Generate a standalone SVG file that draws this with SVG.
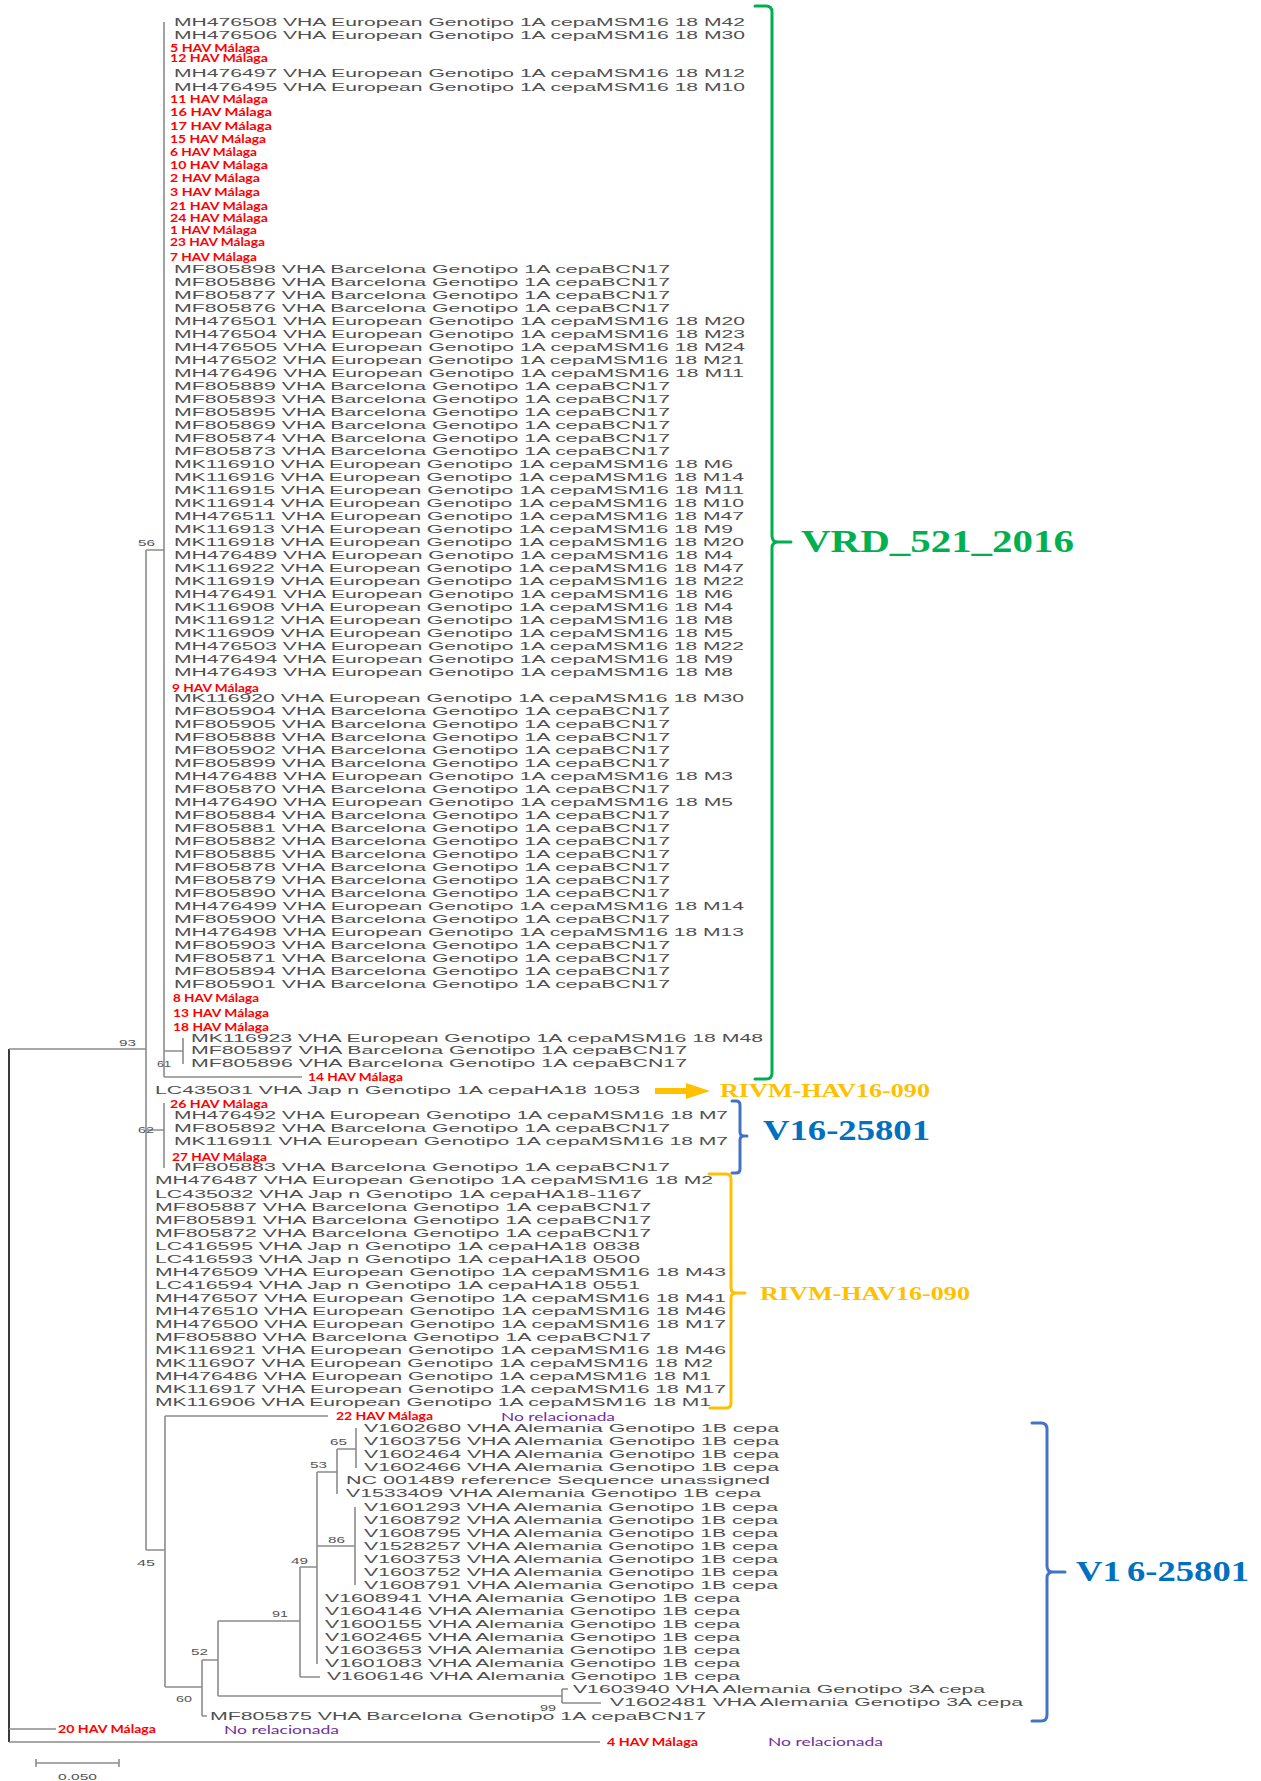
<svg xmlns="http://www.w3.org/2000/svg" width="1261" height="1781" viewBox="0 0 1261 1781">
<style>
.t{font-family:"Liberation Sans",Arial,sans-serif;font-size:10px;fill:#505050}
.r{font-family:Lato,"Liberation Sans",sans-serif;font-weight:bold;font-size:11px;fill:#ff0000}
.n{font-family:Lato,"Liberation Sans",sans-serif;font-size:12px;fill:#7030a0}
.b{font-family:"Liberation Sans",Arial,sans-serif;font-size:8.5px;fill:#555}
.ln{fill:none;stroke:#8c8c8c;stroke-width:1.6}
.root{fill:none;stroke:#3a3a3a;stroke-width:2}
.big{font-family:"Liberation Serif","Times New Roman",serif;font-weight:bold}
.g{fill:#00b050}.y{fill:#ffc000}.bl{fill:#0070c0}
.br{fill:none;stroke-width:3;stroke-linecap:round}
</style>
<rect width="1261" height="1781" fill="#fff"/>
<g id="connectors">
<path class="root" d="M9,1049V1742"/>
<path class="ln" d="M9,1049H146M9,1729H56M9,1742H600"/>
<path class="ln" d="M146,550V1550M146,550H164M146,1130H164M146,1550H165"/>
<path class="ln" d="M164,22V1077M164,1077H302M164,1051H183M183,1038V1064"/>
<path class="ln" d="M164,1103V1168"/>
<path class="ln" d="M165,1416V1687M165,1416H328M165,1687H202"/>
<path class="ln" d="M202,1660V1716M202,1660H218M202,1716H207"/>
<path class="ln" d="M218,1621V1696M218,1621H300M218,1696H562"/>
<path class="ln" d="M300,1567V1677M300,1567H317M300,1677H320"/>
<path class="ln" d="M317,1472V1664M317,1472H337M317,1546H355"/>
<path class="ln" d="M337,1449V1494M337,1449H356M356,1428V1468M355,1507V1585"/>
<path class="ln" d="M562,1689V1703M562,1703H601M562,1689H568"/>
<path class="ln" d="M36,1763H119M36,1759V1767M119,1759V1767"/>
</g>
<g id="bootstrap">
<text class="b" x="138" y="546" textLength="17" lengthAdjust="spacingAndGlyphs">56</text>
<text class="b" x="119" y="1046" textLength="17" lengthAdjust="spacingAndGlyphs">93</text>
<text class="b" x="157" y="1067" textLength="14" lengthAdjust="spacingAndGlyphs">61</text>
<text class="b" x="138" y="1133" textLength="16" lengthAdjust="spacingAndGlyphs">62</text>
<text class="b" x="137" y="1566" textLength="18" lengthAdjust="spacingAndGlyphs">45</text>
<text class="b" x="330" y="1445" textLength="17" lengthAdjust="spacingAndGlyphs">65</text>
<text class="b" x="310" y="1468" textLength="17" lengthAdjust="spacingAndGlyphs">53</text>
<text class="b" x="328" y="1543" textLength="17" lengthAdjust="spacingAndGlyphs">86</text>
<text class="b" x="291" y="1564" textLength="17" lengthAdjust="spacingAndGlyphs">49</text>
<text class="b" x="272" y="1617" textLength="16" lengthAdjust="spacingAndGlyphs">91</text>
<text class="b" x="191" y="1655" textLength="17" lengthAdjust="spacingAndGlyphs">52</text>
<text class="b" x="176" y="1702" textLength="16" lengthAdjust="spacingAndGlyphs">60</text>
<text class="b" x="540" y="1711" textLength="16" lengthAdjust="spacingAndGlyphs">99</text>
<text class="b" x="58" y="1780" textLength="39" lengthAdjust="spacingAndGlyphs">0.050</text>
</g>
<g id="tips-top">
<g id="n1"><text class="t" x="174" y="25.7" textLength="571" lengthAdjust="spacingAndGlyphs">MH476508 VHA European Genotipo 1A cepaMSM16 18 M42</text></g>
<g id="n2"><text class="t" x="174" y="38.7" textLength="571" lengthAdjust="spacingAndGlyphs">MH476506 VHA European Genotipo 1A cepaMSM16 18 M30</text></g>
<g id="n3"><text class="r" x="170" y="51.5" textLength="90" lengthAdjust="spacingAndGlyphs">5 HAV Málaga</text></g>
<g id="n4"><text class="r" x="170" y="62" textLength="98" lengthAdjust="spacingAndGlyphs">12 HAV Málaga</text></g>
<g id="n5"><text class="t" x="174" y="77.4" textLength="571" lengthAdjust="spacingAndGlyphs">MH476497 VHA European Genotipo 1A cepaMSM16 18 M12</text></g>
<g id="n6"><text class="t" x="174" y="90.7" textLength="571" lengthAdjust="spacingAndGlyphs">MH476495 VHA European Genotipo 1A cepaMSM16 18 M10</text></g>
<g id="n7"><text class="r" x="170" y="103.3" textLength="98" lengthAdjust="spacingAndGlyphs">11 HAV Málaga</text></g>
<g id="n8"><text class="r" x="170" y="115.7" textLength="102" lengthAdjust="spacingAndGlyphs">16 HAV Málaga</text></g>
<g id="n9"><text class="r" x="170" y="130" textLength="102" lengthAdjust="spacingAndGlyphs">17 HAV Málaga</text></g>
<g id="n10"><text class="r" x="170" y="142.7" textLength="96" lengthAdjust="spacingAndGlyphs">15 HAV Málaga</text></g>
<g id="n11"><text class="r" x="170" y="156" textLength="87" lengthAdjust="spacingAndGlyphs">6 HAV Málaga</text></g>
<g id="n12"><text class="r" x="170" y="169" textLength="98" lengthAdjust="spacingAndGlyphs">10 HAV Málaga</text></g>
<g id="n13"><text class="r" x="170" y="182.3" textLength="90" lengthAdjust="spacingAndGlyphs">2 HAV Málaga</text></g>
<g id="n14"><text class="r" x="170" y="195.7" textLength="90" lengthAdjust="spacingAndGlyphs">3 HAV Málaga</text></g>
<g id="n15"><text class="r" x="170" y="209.7" textLength="98" lengthAdjust="spacingAndGlyphs">21 HAV Málaga</text></g>
<g id="n16"><text class="r" x="170" y="222" textLength="98" lengthAdjust="spacingAndGlyphs">24 HAV Málaga</text></g>
<g id="n17"><text class="r" x="170" y="233.7" textLength="87" lengthAdjust="spacingAndGlyphs">1 HAV Málaga</text></g>
<g id="n18"><text class="r" x="170" y="246.3" textLength="95" lengthAdjust="spacingAndGlyphs">23 HAV Málaga</text></g>
<g id="n19"><text class="r" x="170" y="261" textLength="87" lengthAdjust="spacingAndGlyphs">7 HAV Málaga</text></g>
<g id="n20"><text class="t" x="174" y="273.1" textLength="496" lengthAdjust="spacingAndGlyphs">MF805898 VHA Barcelona Genotipo 1A cepaBCN17</text></g>
<g id="n21"><text class="t" x="174" y="286.1" textLength="496" lengthAdjust="spacingAndGlyphs">MF805886 VHA Barcelona Genotipo 1A cepaBCN17</text></g>
<g id="n22"><text class="t" x="174" y="299.1" textLength="496" lengthAdjust="spacingAndGlyphs">MF805877 VHA Barcelona Genotipo 1A cepaBCN17</text></g>
<g id="n23"><text class="t" x="174" y="312.1" textLength="496" lengthAdjust="spacingAndGlyphs">MF805876 VHA Barcelona Genotipo 1A cepaBCN17</text></g>
<g id="n24"><text class="t" x="174" y="325.1" textLength="571" lengthAdjust="spacingAndGlyphs">MH476501 VHA European Genotipo 1A cepaMSM16 18 M20</text></g>
<g id="n25"><text class="t" x="174" y="338.1" textLength="571" lengthAdjust="spacingAndGlyphs">MH476504 VHA European Genotipo 1A cepaMSM16 18 M23</text></g>
<g id="n26"><text class="t" x="174" y="351.1" textLength="571" lengthAdjust="spacingAndGlyphs">MH476505 VHA European Genotipo 1A cepaMSM16 18 M24</text></g>
<g id="n27"><text class="t" x="174" y="364.1" textLength="570" lengthAdjust="spacingAndGlyphs">MH476502 VHA European Genotipo 1A cepaMSM16 18 M21</text></g>
<g id="n28"><text class="t" x="174" y="377.1" textLength="570" lengthAdjust="spacingAndGlyphs">MH476496 VHA European Genotipo 1A cepaMSM16 18 M11</text></g>
<g id="n29"><text class="t" x="174" y="390.1" textLength="496" lengthAdjust="spacingAndGlyphs">MF805889 VHA Barcelona Genotipo 1A cepaBCN17</text></g>
<g id="n30"><text class="t" x="174" y="403.1" textLength="496" lengthAdjust="spacingAndGlyphs">MF805893 VHA Barcelona Genotipo 1A cepaBCN17</text></g>
<g id="n31"><text class="t" x="174" y="416.1" textLength="496" lengthAdjust="spacingAndGlyphs">MF805895 VHA Barcelona Genotipo 1A cepaBCN17</text></g>
<g id="n32"><text class="t" x="174" y="429.1" textLength="496" lengthAdjust="spacingAndGlyphs">MF805869 VHA Barcelona Genotipo 1A cepaBCN17</text></g>
<g id="n33"><text class="t" x="174" y="442.1" textLength="496" lengthAdjust="spacingAndGlyphs">MF805874 VHA Barcelona Genotipo 1A cepaBCN17</text></g>
<g id="n34"><text class="t" x="174" y="455.1" textLength="496" lengthAdjust="spacingAndGlyphs">MF805873 VHA Barcelona Genotipo 1A cepaBCN17</text></g>
<g id="n35"><text class="t" x="174" y="468.1" textLength="559" lengthAdjust="spacingAndGlyphs">MK116910 VHA European Genotipo 1A cepaMSM16 18 M6</text></g>
<g id="n36"><text class="t" x="174" y="481.1" textLength="570" lengthAdjust="spacingAndGlyphs">MK116916 VHA European Genotipo 1A cepaMSM16 18 M14</text></g>
<g id="n37"><text class="t" x="174" y="494.1" textLength="570" lengthAdjust="spacingAndGlyphs">MK116915 VHA European Genotipo 1A cepaMSM16 18 M11</text></g>
<g id="n38"><text class="t" x="174" y="507.1" textLength="570" lengthAdjust="spacingAndGlyphs">MK116914 VHA European Genotipo 1A cepaMSM16 18 M10</text></g>
<g id="n39"><text class="t" x="174" y="520.1" textLength="570" lengthAdjust="spacingAndGlyphs">MH476511 VHA European Genotipo 1A cepaMSM16 18 M47</text></g>
<g id="n40"><text class="t" x="174" y="533.1" textLength="559" lengthAdjust="spacingAndGlyphs">MK116913 VHA European Genotipo 1A cepaMSM16 18 M9</text></g>
<g id="n41"><text class="t" x="174" y="546.1" textLength="570" lengthAdjust="spacingAndGlyphs">MK116918 VHA European Genotipo 1A cepaMSM16 18 M20</text></g>
<g id="n42"><text class="t" x="174" y="559.1" textLength="559" lengthAdjust="spacingAndGlyphs">MH476489 VHA European Genotipo 1A cepaMSM16 18 M4</text></g>
<g id="n43"><text class="t" x="174" y="572.1" textLength="570" lengthAdjust="spacingAndGlyphs">MK116922 VHA European Genotipo 1A cepaMSM16 18 M47</text></g>
<g id="n44"><text class="t" x="174" y="585.1" textLength="570" lengthAdjust="spacingAndGlyphs">MK116919 VHA European Genotipo 1A cepaMSM16 18 M22</text></g>
<g id="n45"><text class="t" x="174" y="598.1" textLength="559" lengthAdjust="spacingAndGlyphs">MH476491 VHA European Genotipo 1A cepaMSM16 18 M6</text></g>
<g id="n46"><text class="t" x="174" y="611.1" textLength="559" lengthAdjust="spacingAndGlyphs">MK116908 VHA European Genotipo 1A cepaMSM16 18 M4</text></g>
<g id="n47"><text class="t" x="174" y="624.1" textLength="559" lengthAdjust="spacingAndGlyphs">MK116912 VHA European Genotipo 1A cepaMSM16 18 M8</text></g>
<g id="n48"><text class="t" x="174" y="637.1" textLength="559" lengthAdjust="spacingAndGlyphs">MK116909 VHA European Genotipo 1A cepaMSM16 18 M5</text></g>
<g id="n49"><text class="t" x="174" y="650.1" textLength="570" lengthAdjust="spacingAndGlyphs">MH476503 VHA European Genotipo 1A cepaMSM16 18 M22</text></g>
<g id="n50"><text class="t" x="174" y="663.1" textLength="559" lengthAdjust="spacingAndGlyphs">MH476494 VHA European Genotipo 1A cepaMSM16 18 M9</text></g>
<g id="n51"><text class="t" x="174" y="676.1" textLength="559" lengthAdjust="spacingAndGlyphs">MH476493 VHA European Genotipo 1A cepaMSM16 18 M8</text></g>
<g id="n52"><text class="r" x="172" y="691.7" textLength="87" lengthAdjust="spacingAndGlyphs">9 HAV Málaga</text></g>
<g id="n53"><text class="t" x="174" y="702.1" textLength="570" lengthAdjust="spacingAndGlyphs">MK116920 VHA European Genotipo 1A cepaMSM16 18 M30</text></g>
<g id="n54"><text class="t" x="174" y="715.1" textLength="496" lengthAdjust="spacingAndGlyphs">MF805904 VHA Barcelona Genotipo 1A cepaBCN17</text></g>
<g id="n55"><text class="t" x="174" y="728.1" textLength="496" lengthAdjust="spacingAndGlyphs">MF805905 VHA Barcelona Genotipo 1A cepaBCN17</text></g>
<g id="n56"><text class="t" x="174" y="741.1" textLength="496" lengthAdjust="spacingAndGlyphs">MF805888 VHA Barcelona Genotipo 1A cepaBCN17</text></g>
<g id="n57"><text class="t" x="174" y="754.1" textLength="496" lengthAdjust="spacingAndGlyphs">MF805902 VHA Barcelona Genotipo 1A cepaBCN17</text></g>
<g id="n58"><text class="t" x="174" y="767.1" textLength="496" lengthAdjust="spacingAndGlyphs">MF805899 VHA Barcelona Genotipo 1A cepaBCN17</text></g>
<g id="n59"><text class="t" x="174" y="780.1" textLength="559" lengthAdjust="spacingAndGlyphs">MH476488 VHA European Genotipo 1A cepaMSM16 18 M3</text></g>
<g id="n60"><text class="t" x="174" y="793.1" textLength="496" lengthAdjust="spacingAndGlyphs">MF805870 VHA Barcelona Genotipo 1A cepaBCN17</text></g>
<g id="n61"><text class="t" x="174" y="806.1" textLength="559" lengthAdjust="spacingAndGlyphs">MH476490 VHA European Genotipo 1A cepaMSM16 18 M5</text></g>
<g id="n62"><text class="t" x="174" y="819.1" textLength="496" lengthAdjust="spacingAndGlyphs">MF805884 VHA Barcelona Genotipo 1A cepaBCN17</text></g>
<g id="n63"><text class="t" x="174" y="832.1" textLength="496" lengthAdjust="spacingAndGlyphs">MF805881 VHA Barcelona Genotipo 1A cepaBCN17</text></g>
<g id="n64"><text class="t" x="174" y="845.1" textLength="496" lengthAdjust="spacingAndGlyphs">MF805882 VHA Barcelona Genotipo 1A cepaBCN17</text></g>
<g id="n65"><text class="t" x="174" y="858.1" textLength="496" lengthAdjust="spacingAndGlyphs">MF805885 VHA Barcelona Genotipo 1A cepaBCN17</text></g>
<g id="n66"><text class="t" x="174" y="871.1" textLength="496" lengthAdjust="spacingAndGlyphs">MF805878 VHA Barcelona Genotipo 1A cepaBCN17</text></g>
<g id="n67"><text class="t" x="174" y="884.1" textLength="496" lengthAdjust="spacingAndGlyphs">MF805879 VHA Barcelona Genotipo 1A cepaBCN17</text></g>
<g id="n68"><text class="t" x="174" y="897.1" textLength="496" lengthAdjust="spacingAndGlyphs">MF805890 VHA Barcelona Genotipo 1A cepaBCN17</text></g>
<g id="n69"><text class="t" x="174" y="910.1" textLength="570" lengthAdjust="spacingAndGlyphs">MH476499 VHA European Genotipo 1A cepaMSM16 18 M14</text></g>
<g id="n70"><text class="t" x="174" y="923.1" textLength="496" lengthAdjust="spacingAndGlyphs">MF805900 VHA Barcelona Genotipo 1A cepaBCN17</text></g>
<g id="n71"><text class="t" x="174" y="936.1" textLength="570" lengthAdjust="spacingAndGlyphs">MH476498 VHA European Genotipo 1A cepaMSM16 18 M13</text></g>
<g id="n72"><text class="t" x="174" y="949.1" textLength="496" lengthAdjust="spacingAndGlyphs">MF805903 VHA Barcelona Genotipo 1A cepaBCN17</text></g>
<g id="n73"><text class="t" x="174" y="962.1" textLength="496" lengthAdjust="spacingAndGlyphs">MF805871 VHA Barcelona Genotipo 1A cepaBCN17</text></g>
<g id="n74"><text class="t" x="174" y="975.1" textLength="496" lengthAdjust="spacingAndGlyphs">MF805894 VHA Barcelona Genotipo 1A cepaBCN17</text></g>
<g id="n75"><text class="t" x="174" y="988.1" textLength="496" lengthAdjust="spacingAndGlyphs">MF805901 VHA Barcelona Genotipo 1A cepaBCN17</text></g>
<g id="n76"><text class="r" x="173" y="1002.3" textLength="86" lengthAdjust="spacingAndGlyphs">8 HAV Málaga</text></g>
<g id="n77"><text class="r" x="173" y="1017.3" textLength="96" lengthAdjust="spacingAndGlyphs">13 HAV Málaga</text></g>
<g id="n78"><text class="r" x="173" y="1031" textLength="96" lengthAdjust="spacingAndGlyphs">18 HAV Málaga</text></g>
<g id="n79"><text class="t" x="191" y="1041.7" textLength="572" lengthAdjust="spacingAndGlyphs">MK116923 VHA European Genotipo 1A cepaMSM16 18 M48</text></g>
<g id="n80"><text class="t" x="191" y="1054.4" textLength="496" lengthAdjust="spacingAndGlyphs">MF805897 VHA Barcelona Genotipo 1A cepaBCN17</text></g>
<g id="n81"><text class="t" x="191" y="1067.4" textLength="496" lengthAdjust="spacingAndGlyphs">MF805896 VHA Barcelona Genotipo 1A cepaBCN17</text></g>
<g id="n82"><text class="r" x="308" y="1080.5" textLength="95" lengthAdjust="spacingAndGlyphs">14 HAV Málaga</text></g>
</g>
<g id="tips-middle">
<g id="n83"><text class="t" x="155" y="1094.4" textLength="485" lengthAdjust="spacingAndGlyphs">LC435031 VHA Jap n Genotipo 1A cepaHA18 1053</text></g>
<g id="n84"><text class="r" x="170" y="1108.3" textLength="98" lengthAdjust="spacingAndGlyphs">26 HAV Málaga</text></g>
<g id="n85"><text class="t" x="174" y="1119.4" textLength="554" lengthAdjust="spacingAndGlyphs">MH476492 VHA European Genotipo 1A cepaMSM16 18 M7</text></g>
<g id="n86"><text class="t" x="174" y="1132.4" textLength="496" lengthAdjust="spacingAndGlyphs">MF805892 VHA Barcelona Genotipo 1A cepaBCN17</text></g>
<g id="n87"><text class="t" x="174" y="1145.4" textLength="554" lengthAdjust="spacingAndGlyphs">MK116911 VHA European Genotipo 1A cepaMSM16 18 M7</text></g>
<g id="n88"><text class="r" x="172" y="1161" textLength="95" lengthAdjust="spacingAndGlyphs">27 HAV Málaga</text></g>
<g id="n89"><text class="t" x="174" y="1171.4" textLength="496" lengthAdjust="spacingAndGlyphs">MF805883 VHA Barcelona Genotipo 1A cepaBCN17</text></g>
<g id="n90"><text class="t" x="155" y="1184.4" textLength="558" lengthAdjust="spacingAndGlyphs">MH476487 VHA European Genotipo 1A cepaMSM16 18 M2</text></g>
<g id="n91"><text class="t" x="155" y="1198.1" textLength="487" lengthAdjust="spacingAndGlyphs">LC435032 VHA Jap n Genotipo 1A cepaHA18-1167</text></g>
<g id="n92"><text class="t" x="155" y="1211.1" textLength="496" lengthAdjust="spacingAndGlyphs">MF805887 VHA Barcelona Genotipo 1A cepaBCN17</text></g>
<g id="n93"><text class="t" x="155" y="1224.1" textLength="496" lengthAdjust="spacingAndGlyphs">MF805891 VHA Barcelona Genotipo 1A cepaBCN17</text></g>
<g id="n94"><text class="t" x="155" y="1236.7" textLength="496" lengthAdjust="spacingAndGlyphs">MF805872 VHA Barcelona Genotipo 1A cepaBCN17</text></g>
<g id="n95"><text class="t" x="155" y="1250.1" textLength="485" lengthAdjust="spacingAndGlyphs">LC416595 VHA Jap n Genotipo 1A cepaHA18 0838</text></g>
<g id="n96"><text class="t" x="155" y="1262.7" textLength="485" lengthAdjust="spacingAndGlyphs">LC416593 VHA Jap n Genotipo 1A cepaHA18 0500</text></g>
<g id="n97"><text class="t" x="155" y="1276.1" textLength="571" lengthAdjust="spacingAndGlyphs">MH476509 VHA European Genotipo 1A cepaMSM16 18 M43</text></g>
<g id="n98"><text class="t" x="155" y="1289.1" textLength="485" lengthAdjust="spacingAndGlyphs">LC416594 VHA Jap n Genotipo 1A cepaHA18 0551</text></g>
<g id="n99"><text class="t" x="155" y="1301.7" textLength="571" lengthAdjust="spacingAndGlyphs">MH476507 VHA European Genotipo 1A cepaMSM16 18 M41</text></g>
<g id="n100"><text class="t" x="155" y="1315.1" textLength="571" lengthAdjust="spacingAndGlyphs">MH476510 VHA European Genotipo 1A cepaMSM16 18 M46</text></g>
<g id="n101"><text class="t" x="155" y="1327.7" textLength="571" lengthAdjust="spacingAndGlyphs">MH476500 VHA European Genotipo 1A cepaMSM16 18 M17</text></g>
<g id="n102"><text class="t" x="155" y="1340.7" textLength="496" lengthAdjust="spacingAndGlyphs">MF805880 VHA Barcelona Genotipo 1A cepaBCN17</text></g>
<g id="n103"><text class="t" x="155" y="1354.1" textLength="571" lengthAdjust="spacingAndGlyphs">MK116921 VHA European Genotipo 1A cepaMSM16 18 M46</text></g>
<g id="n104"><text class="t" x="155" y="1366.7" textLength="558" lengthAdjust="spacingAndGlyphs">MK116907 VHA European Genotipo 1A cepaMSM16 18 M2</text></g>
<g id="n105"><text class="t" x="155" y="1379.7" textLength="556" lengthAdjust="spacingAndGlyphs">MH476486 VHA European Genotipo 1A cepaMSM16 18 M1</text></g>
<g id="n106"><text class="t" x="155" y="1393.1" textLength="571" lengthAdjust="spacingAndGlyphs">MK116917 VHA European Genotipo 1A cepaMSM16 18 M17</text></g>
<g id="n107"><text class="t" x="155" y="1406.1" textLength="556" lengthAdjust="spacingAndGlyphs">MK116906 VHA European Genotipo 1A cepaMSM16 18 M1</text></g>
<g id="n108"><text class="r" x="336" y="1420" textLength="97" lengthAdjust="spacingAndGlyphs">22 HAV Málaga</text><text class="n" x="501" y="1420.5" textLength="114" lengthAdjust="spacingAndGlyphs">No relacionada</text></g>
</g>
<g id="tips-bottom">
<g id="n109"><text class="t" x="364" y="1432.4" textLength="415" lengthAdjust="spacingAndGlyphs">V1602680 VHA Alemania Genotipo 1B cepa</text></g>
<g id="n110"><text class="t" x="364" y="1445.4" textLength="415" lengthAdjust="spacingAndGlyphs">V1603756 VHA Alemania Genotipo 1B cepa</text></g>
<g id="n111"><text class="t" x="364" y="1458.4" textLength="415" lengthAdjust="spacingAndGlyphs">V1602464 VHA Alemania Genotipo 1B cepa</text></g>
<g id="n112"><text class="t" x="364" y="1471.4" textLength="415" lengthAdjust="spacingAndGlyphs">V1602466 VHA Alemania Genotipo 1B cepa</text></g>
<g id="n113"><text class="t" x="346" y="1484.4" textLength="424" lengthAdjust="spacingAndGlyphs">NC 001489 reference Sequence unassigned</text></g>
<g id="n114"><text class="t" x="346" y="1497.4" textLength="415" lengthAdjust="spacingAndGlyphs">V1533409 VHA Alemania Genotipo 1B cepa</text></g>
<g id="n115"><text class="t" x="364" y="1511.1" textLength="414" lengthAdjust="spacingAndGlyphs">V1601293 VHA Alemania Genotipo 1B cepa</text></g>
<g id="n116"><text class="t" x="364" y="1523.7" textLength="414" lengthAdjust="spacingAndGlyphs">V1608792 VHA Alemania Genotipo 1B cepa</text></g>
<g id="n117"><text class="t" x="364" y="1536.7" textLength="414" lengthAdjust="spacingAndGlyphs">V1608795 VHA Alemania Genotipo 1B cepa</text></g>
<g id="n118"><text class="t" x="364" y="1549.7" textLength="414" lengthAdjust="spacingAndGlyphs">V1528257 VHA Alemania Genotipo 1B cepa</text></g>
<g id="n119"><text class="t" x="364" y="1562.7" textLength="414" lengthAdjust="spacingAndGlyphs">V1603753 VHA Alemania Genotipo 1B cepa</text></g>
<g id="n120"><text class="t" x="364" y="1575.7" textLength="414" lengthAdjust="spacingAndGlyphs">V1603752 VHA Alemania Genotipo 1B cepa</text></g>
<g id="n121"><text class="t" x="364" y="1589" textLength="414" lengthAdjust="spacingAndGlyphs">V1608791 VHA Alemania Genotipo 1B cepa</text></g>
<g id="n122"><text class="t" x="325" y="1601.7" textLength="415" lengthAdjust="spacingAndGlyphs">V1608941 VHA Alemania Genotipo 1B cepa</text></g>
<g id="n123"><text class="t" x="325" y="1615.1" textLength="415" lengthAdjust="spacingAndGlyphs">V1604146 VHA Alemania Genotipo 1B cepa</text></g>
<g id="n124"><text class="t" x="325" y="1627.7" textLength="415" lengthAdjust="spacingAndGlyphs">V1600155 VHA Alemania Genotipo 1B cepa</text></g>
<g id="n125"><text class="t" x="325" y="1640.7" textLength="415" lengthAdjust="spacingAndGlyphs">V1602465 VHA Alemania Genotipo 1B cepa</text></g>
<g id="n126"><text class="t" x="325" y="1653.7" textLength="415" lengthAdjust="spacingAndGlyphs">V1603653 VHA Alemania Genotipo 1B cepa</text></g>
<g id="n127"><text class="t" x="325" y="1666.7" textLength="415" lengthAdjust="spacingAndGlyphs">V1601083 VHA Alemania Genotipo 1B cepa</text></g>
<g id="n128"><text class="t" x="327" y="1680.1" textLength="413" lengthAdjust="spacingAndGlyphs">V1606146 VHA Alemania Genotipo 1B cepa</text></g>
<g id="n129"><text class="t" x="573" y="1692.7" textLength="412" lengthAdjust="spacingAndGlyphs">V1603940 VHA Alemania Genotipo 3A cepa</text></g>
<g id="n130"><text class="t" x="610" y="1706.1" textLength="413" lengthAdjust="spacingAndGlyphs">V1602481 VHA Alemania Genotipo 3A cepa</text></g>
<g id="n131"><text class="t" x="210" y="1719.7" textLength="496" lengthAdjust="spacingAndGlyphs">MF805875 VHA Barcelona Genotipo 1A cepaBCN17</text></g>
<g id="n132"><text class="r" x="58" y="1733" textLength="98" lengthAdjust="spacingAndGlyphs">20 HAV Málaga</text><text class="n" x="224" y="1733.5" textLength="115" lengthAdjust="spacingAndGlyphs">No relacionada</text></g>
<g id="n133"><text class="r" x="607" y="1745.7" textLength="91" lengthAdjust="spacingAndGlyphs">4 HAV Málaga</text><text class="n" x="768" y="1746" textLength="115" lengthAdjust="spacingAndGlyphs">No relacionada</text></g>
</g>
<g id="clade-VRD">
<path class="br" stroke="#00b050" d="M755,6H766Q772,6 772,12V536Q772,542 778,542H791M778,542Q772,542 772,548V1073Q772,1079 766,1079H755"/>
<text class="big g" x="801" y="552" font-size="31" textLength="273" lengthAdjust="spacingAndGlyphs">VRD_521_2016</text>
</g>
<g id="clade-RIVM-1">
<rect x="655" y="1088" width="34" height="6" fill="#ffc000"/>
<polygon points="686,1083 710,1091 686,1099" fill="#ffc000"/>
<text class="big y" x="720" y="1097" font-size="19" textLength="210" lengthAdjust="spacingAndGlyphs">RIVM-HAV16-090</text>
</g>
<g id="clade-V16-upper">
<path class="br" stroke="#4472c4" stroke-width="2.5" d="M732,1101H736Q740,1101 740,1105V1132Q740,1136 744,1136H747M744,1136Q740,1136 740,1140V1169Q740,1173 736,1173H732"/>
<text class="big bl" x="763" y="1140" font-size="28.7" textLength="167" lengthAdjust="spacingAndGlyphs">V16-25801</text>
</g>
<g id="clade-RIVM-2">
<path class="br" stroke="#ffc000" stroke-width="2.5" d="M709,1174H726Q731,1174 731,1179V1288Q731,1293 736,1293H745M736,1293Q731,1293 731,1298V1403Q731,1408 726,1408H710"/>
<text class="big y" x="760" y="1299.5" font-size="19" textLength="210" lengthAdjust="spacingAndGlyphs">RIVM-HAV16-090</text>
</g>
<g id="clade-V16-lower">
<path class="br" stroke="#4472c4" d="M1032,1423H1041Q1047,1423 1047,1429V1566Q1047,1572 1053,1572H1065M1053,1572Q1047,1572 1047,1578V1715Q1047,1721 1041,1721H1032"/>
<text class="big bl" x="1076" y="1581" font-size="28.7" textLength="173" lengthAdjust="spacingAndGlyphs">V1<tspan dx="5">6-25801</tspan></text>
</g>
</svg>
